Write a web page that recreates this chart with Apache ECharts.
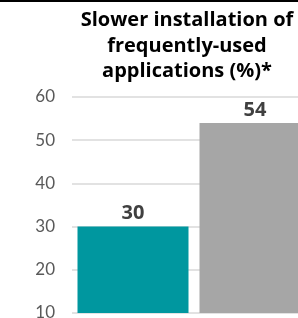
<!DOCTYPE html>
<html>
<head>
<meta charset="utf-8">
<style>
  html, body { margin: 0; padding: 0; background: #fff; }
  #chart { width: 298px; height: 318px; }
</style>
<script src="https://cdn.jsdelivr.net/npm/echarts@6/dist/echarts.min.js"></script>
</head>
<body>
<div id="chart"></div>
<script>
var categories = ['A', 'B'];
var values = [30, 54];
var barColors = ['#00979f', '#a6a6a6'];
var yTicks = [10, 20, 30, 40, 50, 60];

var chart = echarts.init(document.getElementById('chart'));
var option = {
    animation: false,
    title: {
        text: 'Slower installation of\nfrequently-used\napplications (%)*',
        left: 182,
        top: 3,
        textAlign: 'center',
        textStyle: {
            fontFamily: 'Open Sans',
            fontWeight: 'bold',
            fontSize: 20,
            lineHeight: 25.5,
            color: '#000'
        }
    },
    graphic: [{
        type: 'rect',
        shape: { x: 0, y: 0, width: 298, height: 2 },
        style: { fill: '#000' }
    }],
    grid: {
        left: 72,
        top: 97,
        bottom: 5,
        width: 244,
        outerBoundsMode: 'none'
    },
    xAxis: {
        type: 'category',
        data: categories,
        axisLine: { show: false },
        axisTick: { show: false },
        axisLabel: { show: false }
    },
    yAxis: {
        type: 'value',
        min: yTicks[0],
        max: yTicks[yTicks.length - 1],
        interval: 10,
        axisLine: { show: false },
        axisTick: { show: false },
        axisLabel: {
            fontFamily: 'Lato',
            fontSize: 17,
            color: '#595959',
            margin: 17
        },
        splitLine: { lineStyle: { color: '#d9d9d9', width: 1.5 } }
    },
    series: [{
        type: 'bar',
        data: values.map(function (v, i) {
            return { value: v, itemStyle: { color: barColors[i] } };
        }),
        barWidth: 111,
        label: {
            show: true,
            position: 'top',
            distance: 3,
            fontFamily: 'Open Sans',
            fontWeight: 'bold',
            fontSize: 20,
            color: '#404040'
        }
    }]
};
chart.setOption(option);
</script>
</body>
</html>
